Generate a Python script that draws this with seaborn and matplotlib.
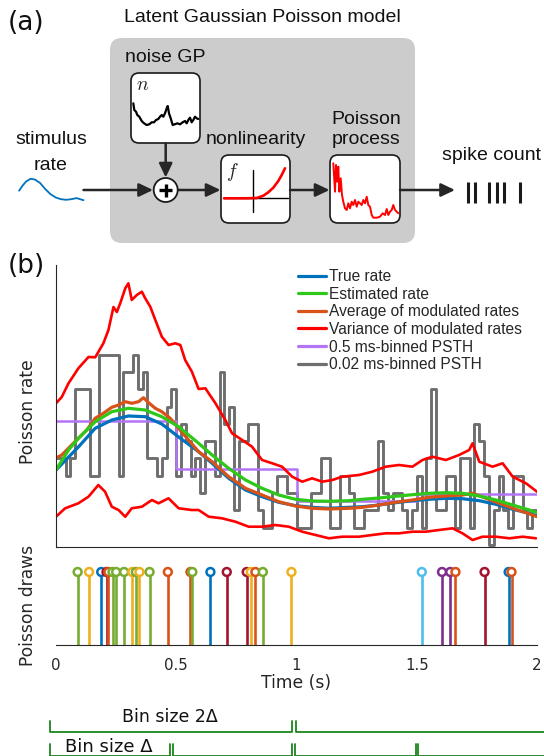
import numpy as np
import matplotlib
matplotlib.use("Agg")
import matplotlib.pyplot as plt
import seaborn as sns
from matplotlib.patches import FancyBboxPatch, Circle
from matplotlib.lines import Line2D

# ---------------- data: panel (b) -----------------
true_t = [0, 0.093, 0.163, 0.232, 0.301, 0.371, 0.44, 0.51, 0.593, 0.649, 0.718, 0.788, 0.857,
          0.926, 0.996, 1.065, 1.135, 1.218, 1.274, 1.343, 1.412, 1.482, 1.551, 1.621, 1.69,
          1.76, 1.829, 1.899, 1.968, 2.0]
true_rate = [77, 100, 118.7, 127, 131, 130.3, 123, 110, 95.3, 83.7, 68.7, 57, 50.3, 44.7, 41.3,
             39.7, 38.7, 39.7, 40.3, 42, 44.3, 46.3, 47.7, 48.7, 48.3, 46.3, 42.7, 37.7, 33.7, 31.3]

est_t = [0, 0.052, 0.093, 0.163, 0.232, 0.301, 0.371, 0.44, 0.51, 0.593, 0.649, 0.718, 0.788,
         0.857, 0.926, 0.996, 1.065, 1.135, 1.218, 1.274, 1.343, 1.412, 1.482, 1.551, 1.621,
         1.69, 1.76, 1.829, 1.899, 1.968, 2.0]
est_rate = [77, 97, 108.7, 125.3, 135.3, 138.7, 137, 130.3, 120.3, 103.7, 92, 78.7, 67, 58.7, 52,
            47.7, 46, 45.7, 46.3, 47.7, 49, 50.7, 52.3, 53.7, 54.3, 53.7, 51, 47, 42, 37, 34.3]

avg_t = [0, 0.024, 0.058, 0.093, 0.128, 0.163, 0.197, 0.232, 0.26, 0.288, 0.315, 0.343, 0.364,
         0.385, 0.413, 0.44, 0.475, 0.51, 0.551, 0.593, 0.649, 0.718, 0.788, 0.857, 0.926, 0.996,
         1.065, 1.135, 1.218, 1.274, 1.343, 1.412, 1.482, 1.551, 1.621, 1.69, 1.732, 1.788, 1.843,
         1.899, 1.954, 2.0]
avg_rate = [89, 92, 100.3, 108.7, 117, 128.7, 133.7, 139.7, 142, 145.3, 143.7, 145.3, 149.3, 144.3,
            138.7, 135.3, 128.7, 118.7, 107, 95.3, 85.3, 70.3, 58.7, 52, 45.3, 41, 38.7, 38, 38.7,
            39.7, 42, 44.7, 47, 49.7, 51, 52, 53.7, 48.7, 43.7, 38.7, 34.3, 30.3]

var_up_t = [0, 0.024, 0.052, 0.093, 0.135, 0.163, 0.197, 0.218, 0.239, 0.253, 0.267, 0.288, 0.301,
            0.315, 0.336, 0.357, 0.371, 0.392, 0.413, 0.44, 0.468, 0.496, 0.517, 0.537, 0.565,
            0.593, 0.621, 0.663, 0.704, 0.732, 0.774, 0.815, 0.857, 0.899, 0.94, 0.982, 1.024,
            1.065, 1.107, 1.149, 1.19, 1.26, 1.315, 1.371, 1.426, 1.482, 1.524, 1.565, 1.621,
            1.676, 1.718, 1.732, 1.76, 1.815, 1.857, 1.899, 1.954, 2.0]
var_up = [143.7, 150, 163.7, 178.7, 190, 189.7, 203.7, 217, 240, 235, 243.7, 258.7, 263.7, 247,
          252, 255.3, 248.7, 240.3, 227, 210.3, 202, 203.7, 202, 187, 175.3, 158, 158.7, 143.7,
          127, 113.7, 107, 100.3, 87, 83.7, 80.3, 70.3, 65.3, 68.7, 65.3, 67, 70.3, 72, 75.3,
          80.3, 82, 80.3, 87, 90.3, 87, 92, 97, 103.7, 85.3, 80.3, 83.7, 70.3, 63.7, 55.3]

var_lo_t = [0, 0.038, 0.093, 0.135, 0.176, 0.204, 0.232, 0.26, 0.288, 0.315, 0.357, 0.399, 0.426,
            0.468, 0.51, 0.565, 0.593, 0.635, 0.69, 0.746, 0.801, 0.857, 0.912, 0.968, 1.024,
            1.079, 1.135, 1.19, 1.26, 1.315, 1.371, 1.426, 1.482, 1.537, 1.593, 1.649, 1.69,
            1.732, 1.774, 1.829, 1.885, 1.94, 1.996]
var_lo = [30.3, 38.7, 43.7, 50.3, 62, 55.3, 40.3, 37, 30.3, 38.7, 40.3, 47, 43.7, 48.7, 38.7, 37,
          37, 30.3, 28.7, 25.3, 20.3, 20.3, 22, 20.3, 15.3, 12, 8.7, 10.3, 10.3, 12, 13.7, 13.7,
          15.3, 15.3, 17, 18.7, 13.7, 7, 10.3, 10.3, 8.7, 10.3, 8.7]

psth_coarse_edges = [0, 0.5, 1.0, 1.5, 2.0]
psth_coarse = [126, 78, 46, 53]

psth_fine_width = 0.02
psth_fine = [89, 89, 71, 89, 158, 158, 158, 71, 71, 192, 192, 192, 192, 71, 175, 175, 192, 158,
             175, 89, 89, 71, 89, 140, 158, 71, 123, 106, 71, 89,
             54, 106, 106, 71, 175, 123, 140, 37, 106, 106, 123, 123, 37, 19, 19, 54, 71, 71, 54,
             54, 19, 19, 19, 54, 54, 89, 89, 19, 19, 71, 71,
             54, 19, 19, 37, 37, 37, 106, 54, 37, 54, 54, 37, 19, 37, 71, 19, 89, 158, 37, 37, 71,
             71, 19, 89, 89, 19, 123, 106, 71, 2, 37, 71, 37, 19, 71, 71, 37, 19, 37]

spike_times = [0.09, 0.1375, 0.188, 0.21, 0.218, 0.235, 0.25, 0.283, 0.317, 0.332, 0.347, 0.389,
               0.465, 0.559, 0.567, 0.642, 0.71, 0.793, 0.81, 0.829, 0.86, 0.979,
               1.521, 1.605, 1.639, 1.661, 1.782, 1.882, 1.894]
spike_trial = ["green", "yellow", "blue", "darkred", "orange", "green", "green", "green", "yellow",
               "green", "yellow", "green", "orange", "orange", "green", "blue", "darkred",
               "darkred", "yellow", "orange", "green", "yellow",
               "lightblue", "purple", "purple", "orange", "darkred", "blue", "orange"]
trial_colors = {"blue": "#0072BD", "orange": "#D95319", "yellow": "#EDB120",
                "purple": "#7E2F8E", "green": "#77AC30", "lightblue": "#4DBEEE",
                "darkred": "#A2142F"}

time_ticks = [0, 0.5, 1, 1.5, 2]
time_ticklabels = ["0", "0.5", "1", "1.5", "2"]

legend_labels = ["True rate", "Estimated rate", "Average of modulated rates",
                 "Variance of modulated rates", "0.5 ms-binned PSTH", "0.02 ms-binned PSTH"]

# ---------------- data: panel (a) diagram (pixel coords) -----------------
noise_x = [133.3, 134.3, 136, 137.3, 139.3, 141.7, 144, 146.7, 149.3, 151.7, 154, 156, 158.3, 160,
           161.7, 163.3, 165, 166.7, 167.7, 169, 170.7, 172.7, 174.7, 177.3, 180, 182.7, 185,
           186.7, 188.3, 190, 191.7, 193.3, 195, 196.7, 198.3]
noise_y = [103.3, 110, 111.7, 115, 116.7, 121, 123.3, 125, 124.3, 122.3, 122.3, 120, 119, 116.7,
           115, 116.7, 113.3, 108.3, 106, 113.3, 118.3, 125, 124.3, 123.3, 124.3, 122.3, 121,
           123.3, 120, 117.7, 122.3, 120, 116.7, 118.3, 119]
poisson_x = [333.3, 335, 336, 337.3, 338.3, 339.3, 340.7, 342, 343.3, 345, 346.7, 348.3, 350,
             351.7, 353.3, 355, 356.7, 358.3, 360, 361.7, 363.3, 365, 366.7, 368.3, 370, 371.7,
             373.3, 376.7, 380, 382.7, 385, 386.7, 388.3, 390, 391.7, 393.3, 395, 396.7, 398.3]
poisson_y = [163.3, 191.7, 165, 181.7, 166.7, 191.7, 178.3, 195, 201.7, 208.3, 210, 203.3, 208.3,
             201.7, 205, 200, 206.7, 201.7, 203.3, 205, 200, 203.3, 196.7, 205, 206.7, 215,
             217.7, 217.7, 216.7, 213.3, 215, 209, 215, 211.7, 210, 205, 210, 211.7, 213.3]
nonlin_x = [224, 233.3, 246.7, 256.7, 263.3, 268.3, 273.3, 278.3, 281.7, 285]
nonlin_y = [198.3, 198.3, 198.3, 198, 195.7, 192.3, 187.7, 181, 175, 168.3]
stim_x = [19.1, 22.6, 26.1, 30.6, 34.8, 40, 45.2, 50.4, 55.7, 60.9, 66.1, 71.3, 76.5, 83.5]
stim_y = [190.7, 185.6, 181.5, 178.8, 179.5, 182.9, 189, 194.1, 197.5, 199.2, 199.8, 199.2, 198.1, 200.2]
spike_bar_x = [468, 475, 489, 497, 504, 520]

# ---------------- figure -----------------
sns.set_style("white")
plt.rcParams["font.family"] = ["DejaVu Sans"]
plt.rcParams["mathtext.fontset"] = "cm"

W, H = 544, 756
fig = plt.figure(figsize=(W / 100, H / 100), dpi=100)
INK = "#262626"
SANS = "Liberation Sans"

# overlay axes in pixel coordinates for diagram & annotations
ax0 = fig.add_axes([0, 0, 1, 1])
ax0.set_xlim(0, W)
ax0.set_ylim(H, 0)
ax0.axis("off")
ax0.patch.set_visible(False)

ax0.text(26, 23, "(a)", fontsize=19, ha="center", va="center", color="#111111")
ax0.text(26, 266, "(b)", fontsize=19, ha="center", va="center", color="#111111")
ax0.text(262, 18, "Latent Gaussian Poisson model", fontsize=14, family=SANS,
         ha="center", va="center", color="#111111")

ax0.add_patch(FancyBboxPatch((110, 38), 305, 205, boxstyle="round,pad=0,rounding_size=12",
                             fc="#CCCCCC", ec="none"))
for (bx, by, bw, bh) in [(131, 73, 69, 70), (221, 155, 69, 68), (330, 155, 70, 68)]:
    ax0.add_patch(FancyBboxPatch((bx, by), bw, bh, boxstyle="round,pad=0,rounding_size=8",
                                 fc="white", ec="#1a1a1a", lw=1.2, zorder=2))

ax0.text(165, 57, "noise GP", fontsize=14, family=SANS, ha="center", va="center", color="#111111")
ax0.text(255.5, 140, "nonlinearity", fontsize=14, family=SANS, ha="center", va="center", color="#111111")
ax0.text(366, 119, "Poisson", fontsize=14, family=SANS, ha="center", va="center", color="#111111")
ax0.text(366, 140, "process", fontsize=14, family=SANS, ha="center", va="center", color="#111111")
ax0.text(51, 140, "stimulus", fontsize=14, family=SANS, ha="center", va="center", color="#111111")
ax0.text(51, 165, "rate", fontsize=14, family=SANS, ha="center", va="center", color="#111111")
ax0.text(442, 155, "spike count", fontsize=14, family=SANS, ha="left", va="center", color="#111111")

ax0.text(143, 85, r"$n$", fontsize=14, ha="center", va="center", zorder=3)
ax0.text(232, 172, r"$f$", fontsize=14, ha="center", va="center", zorder=3)

ax0.plot(noise_x, noise_y, color="black", lw=1.6, zorder=3)
ax0.plot(poisson_x, poisson_y, color="red", lw=1.4, zorder=3)
ax0.plot([253, 253], [170, 212], color="black", lw=1.0, zorder=3)
ax0.plot([224, 288], [198, 198], color="black", lw=1.0, zorder=3)
ax0.plot(nonlin_x, nonlin_y, color="red", lw=1.9, zorder=4)
ax0.plot(stim_x, stim_y, color="#0072BD", lw=1.3)

arrow_kw = dict(arrowstyle="-|>,head_length=0.42,head_width=0.2", mutation_scale=20,
                lw=1.8, color="#262626", shrinkA=0, shrinkB=0)
for (x0_, y0_, x1_, y1_) in [(83.5, 190, 153, 190), (165.7, 143.3, 165.7, 177.5),
                             (178, 190, 220.5, 190), (290, 190, 329.5, 190), (400, 190, 455, 190)]:
    ax0.annotate("", xy=(x1_, y1_), xytext=(x0_, y0_), arrowprops=arrow_kw, zorder=3)

ax0.add_patch(Circle((165.7, 190), 12, fc="white", ec="#1a1a1a", lw=1.3, zorder=4))
ax0.plot([159.2, 172.2], [190, 190], color="black", lw=2.4, zorder=5, solid_capstyle="butt")
ax0.plot([165.7, 165.7], [183.5, 196.5], color="black", lw=2.4, zorder=5, solid_capstyle="butt")

for sx in spike_bar_x:
    ax0.plot([sx, sx], [181.5, 202.5], color="#1a1a1a", lw=2.2, solid_capstyle="butt")

# bin-size brackets
GREEN = "#1b851b"
ax0.text(170, 717, "Bin size 2\u0394", fontsize=12.5, ha="center", va="center", color="#111111")
ax0.text(109, 747, "Bin size \u0394", fontsize=13, ha="center", va="center", color="#111111")
ax0.plot([50, 50, 292, 292], [721, 732, 732, 721], color=GREEN, lw=1.3)
ax0.plot([296, 296, 544], [721, 732, 732], color=GREEN, lw=1.3)
for (a_, b_) in [(50, 170), (173, 292), (295, 416), (418, 560)]:
    ax0.plot([a_, a_, b_, b_], [744, 755.5, 755.5, 744], color=GREEN, lw=1.3)

# ---------------- panel (b): rates -----------------
ax1 = fig.add_axes([56 / W, 1 - 547 / H, 481 / W, 282 / H])
ax1.patch.set_visible(False)

fine_t = [i * psth_fine_width for i in range(len(psth_fine) + 1)]
sns.lineplot(x=fine_t, y=psth_fine + [psth_fine[-1]], ax=ax1, color="#6e6e6e", lw=2.1,
             estimator=None, sort=False, drawstyle="steps-post")
sns.lineplot(x=psth_coarse_edges, y=psth_coarse + [psth_coarse[-1]], ax=ax1, color="#b374f5",
             lw=1.8, estimator=None, sort=False, drawstyle="steps-post")
sns.lineplot(x=var_up_t, y=var_up, ax=ax1, color="#ff0000", lw=1.9, estimator=None, sort=False)
sns.lineplot(x=var_lo_t, y=var_lo, ax=ax1, color="#ff0000", lw=1.9, estimator=None, sort=False)
sns.lineplot(x=true_t, y=true_rate, ax=ax1, color="#0072BD", lw=2.3, estimator=None, sort=False)
sns.lineplot(x=avg_t, y=avg_rate, ax=ax1, color="#D95319", lw=2.3, estimator=None, sort=False)
sns.lineplot(x=est_t, y=est_rate, ax=ax1, color="#2ec81a", lw=2.3, estimator=None, sort=False)

ax1.set_xlim(0, 2)
ax1.set_ylim(0, 282)
ax1.set_xticks(time_ticks)
ax1.set_xticklabels([])
ax1.set_yticks([])
for s in ["top", "right"]:
    ax1.spines[s].set_visible(False)
for s in ["left", "bottom"]:
    ax1.spines[s].set_color(INK)
    ax1.spines[s].set_linewidth(0.8)
ax1.tick_params(axis="x", direction="out", length=3, width=0.8, color=INK)
ax1.set_xlabel("")
ax1.set_ylabel("Poisson rate", fontsize=12.3, color=INK)
ax1.yaxis.set_label_coords(-0.04, 0.48)

handles = [Line2D([], [], color=c, lw=2.3) for c in
           ["#0072BD", "#2ec81a", "#D95319", "#ff0000", "#b374f5", "#6e6e6e"]]
ax1.legend(handles, legend_labels, loc="upper left", bbox_to_anchor=(298 / W, 1 - 269 / H),
           bbox_transform=fig.transFigure, frameon=False, borderpad=0, borderaxespad=0,
           handlelength=1.8, handletextpad=0.2, labelspacing=0.17,
           prop={"family": SANS, "size": 11.2})

# ---------------- panel (b): Poisson draws -----------------
ax2 = fig.add_axes([56 / W, 1 - 645 / H, 481 / W, 98 / H])
ax2.patch.set_visible(False)
stem_cols = [trial_colors[k] for k in spike_trial]
ax2.vlines(spike_times, 0, 1, colors=stem_cols, lw=1.9)
sns.scatterplot(x=spike_times, y=[1] * len(spike_times), ax=ax2, s=32, color="k",
                legend=False, zorder=3)
pc = ax2.collections[-1]
pc.set_facecolor("white")
pc.set_edgecolor(stem_cols)
pc.set_linewidth(1.8)

ax2.set_xlim(0, 2)
ax2.set_ylim(0, 1.342)
ax2.set_xticks(time_ticks)
ax2.set_xticklabels(time_ticklabels)
ax2.set_yticks([])
for s in ["top", "right", "left"]:
    ax2.spines[s].set_visible(False)
ax2.spines["bottom"].set_color(INK)
ax2.spines["bottom"].set_linewidth(0.8)
ax2.tick_params(axis="x", direction="in", length=3, width=0.8, color=INK, pad=9,
                labelsize=10.8, labelcolor=INK)
ax2.set_xlabel("Time (s)", fontsize=12.3, color=INK, labelpad=1)
ax2.set_ylabel("Poisson draws", fontsize=12.3, color=INK)
ax2.yaxis.set_label_coords(-0.04, 0.40)

fig.savefig("out.png", dpi=100)
